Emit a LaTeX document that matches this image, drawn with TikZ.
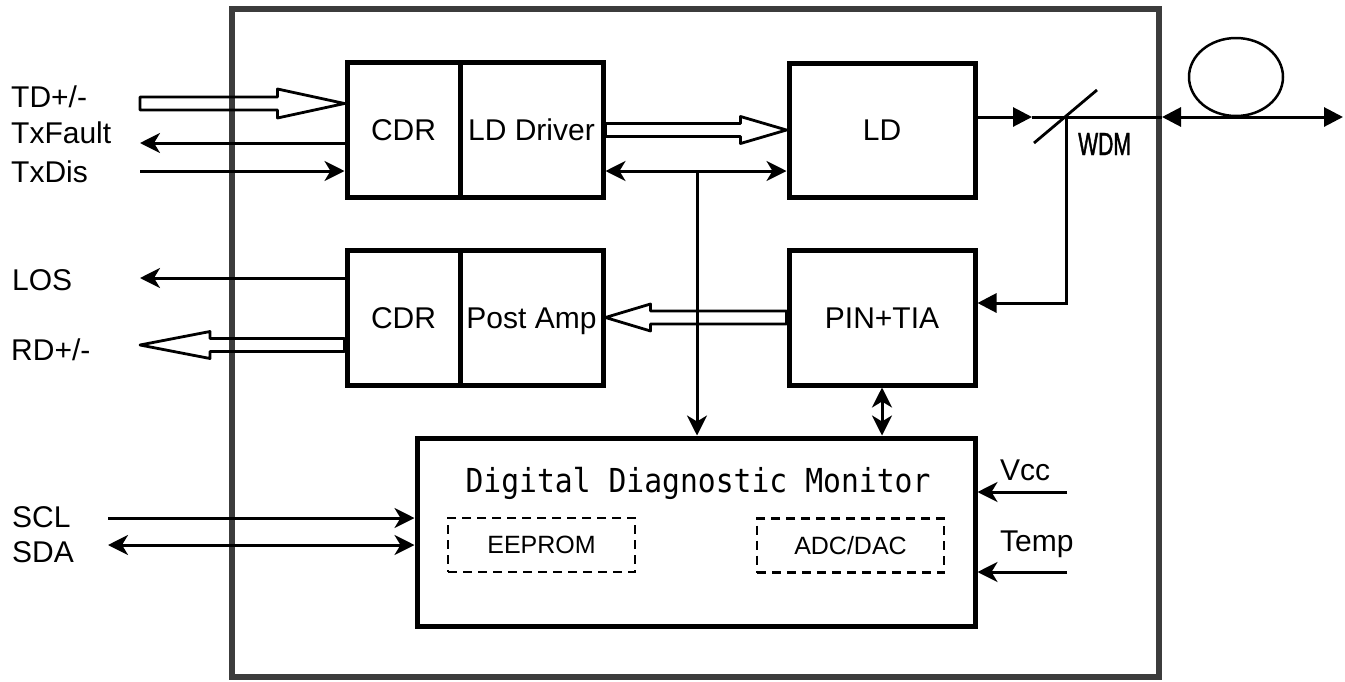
\documentclass[tikz,border=0pt]{standalone}
\usepackage{fontspec}
\setmainfont{Liberation Sans}
\newfontfamily\ddmfont[FakeStretch=0.9]{DejaVu Sans Mono}
\newfontfamily\wdmfont[FakeStretch=0.66,FakeBold=1.2]{Liberation Sans}
\usetikzlibrary{arrows.meta,calc}
\definecolor{outerc}{RGB}{60,60,60}
\tikzset{
  blk/.style={draw=black, line width=5pt, inner sep=0pt, text height=21.5pt, text depth=0pt, font=\fontsize{30}{36}\selectfont},
  dashbox/.style={draw=black, line width=2.8pt, dash pattern=on 9pt off 6pt, inner sep=0pt, text height=17.9pt, text depth=0pt, font=\fontsize{25}{30}\selectfont, minimum width=187pt, minimum height=54pt},
  sig/.style={inner sep=0pt, anchor=base west, font=\fontsize{30}{36}\selectfont},
  conn/.style={line width=3pt, draw=black},
  stl/.tip={Stealth[length=20pt,width=20pt,inset=6pt]},
  tri/.tip={Triangle[length=19pt,width=19pt]},
  hollow/.style={line width=2.8pt, line join=round},
}
\newcommand\hollowarr[4]{%
  \draw[hollow] let \p1=#1, \p2=#2 in
    (\x1,{\y1+6.5pt}) -- ({\x2-(#3pt)},{\y1+6.5pt}) -- ({\x2-(#3pt)},{\y1+#4pt})
    -- (\x2,\y1) -- ({\x2-(#3pt)},{\y1-#4pt}) -- ({\x2-(#3pt)},{\y1-6.5pt})
    -- (\x1,{\y1-6.5pt}) -- cycle;}
\begin{document}
\begin{tikzpicture}[x=1pt,y=-1pt]
\useasboundingbox (0,0) rectangle (1345,681);
% module outline
\node[draw=outerc, line width=6pt, inner sep=0pt, minimum width=927pt, minimum height=668pt] (mod) at (695.5,343) {};
% blocks
\node[blk, minimum width=113pt, minimum height=134.5pt] (cdr1) at (403.5,129.75) {CDR};
\node[blk, minimum width=143pt, minimum height=134.5pt] (ldd) at (531.5,129.75) {LD Driver};
\node[blk, minimum width=186pt, minimum height=134pt] (ld) at (882,130) {LD};
\node[blk, minimum width=113pt, minimum height=135pt] (cdr2) at (403.5,317.5) {CDR};
\node[blk, minimum width=143pt, minimum height=135pt] (pamp) at (531.5,317.5) {Post Amp};
\node[blk, minimum width=186pt, minimum height=135pt] (pin) at (882,317.5) {PIN+TIA};
\node[draw=black, line width=5pt, inner sep=0pt, minimum width=558pt, minimum height=188pt] (ddm) at (696,532) {};
\node[font=\ddmfont\fontsize{33}{40}\selectfont, inner sep=0pt, text height=24pt, text depth=0pt] (ddmt) at (698,480) {Digital Diagnostic Monitor};
\node[dashbox] (eep) at (541.5,545) {EEPROM};
\node[dashbox] (adc) at (850.5,545.5) {ADC/DAC};
% labels
\node[sig] (ltd) at (11,107) {TD+/-};
\node[sig] (ltxf) at (11,143) {TxFault};
\node[sig] (ltxd) at (11,182) {TxDis};
\node[sig] (llos) at (12,290) {LOS};
\node[sig] (lrd) at (11,360) {RD+/-};
\node[sig] (lscl) at (12,527) {SCL};
\node[sig] (lsda) at (12,562) {SDA};
\node[sig] (lvcc) at (1000,480) {Vcc};
\node[sig] (ltemp) at (1000,551) {Temp};
\node[sig, font=\wdmfont\fontsize{32}{38}\selectfont] (lwdm) at (1078,155) {WDM};
% free ends
\coordinate (td) at (140,103.5);
\coordinate (txf) at (140,143);
\coordinate (txd) at (140,171);
\coordinate (ctl) at (697,171);
\coordinate (txbus) at (700,130);
\coordinate (los) at (140,278);
\coordinate (rd) at (140,345);
\coordinate (scl) at (108,518);
\coordinate (sda) at (108,545);
\coordinate (vcc) at (1067,492);
\coordinate (temp) at (1067,572);
\coordinate (wdm) at (1066,117);
\coordinate (optarr) at (1032,117);
\coordinate (pinin) at (1066,303);
\coordinate (ws1) at (1034,143);
\coordinate (ws2) at (1097,90);
\coordinate (fout) at (1343,117);
\coordinate (fib) at (1236,77);
% hollow (bus) arrows
\hollowarr{(td)}{(cdr1.west |- td)}{67}{14.5}
\hollowarr{(ldd.east |- txbus)}{(ld.west |- txbus)}{46}{13.5}
\hollowarr{(pin.west)}{(pamp.east)}{-45}{13.5}
\hollowarr{(cdr2.west |- rd)}{(rd)}{-70}{13.5}
% single line connectors
\draw[conn,-stl] (txf -| cdr1.west) -- (txf);
\draw[conn,-stl] (txd) -- (txd -| cdr1.west);
\draw[conn,stl-stl] (ldd.east |- ctl) -- (ld.west |- ctl);
\draw[conn,-stl] (ctl) -- (ctl |- ddm.north);
\draw[conn,stl-stl] (pin.south) -- (pin.south |- ddm.north);
\draw[conn,-stl] (los -| cdr2.west) -- (los);
\draw[conn,-stl] (scl) -- (scl -| ddm.west);
\draw[conn,stl-stl] (sda) -- (sda -| ddm.west);
\draw[conn,-stl] (vcc) -- (vcc -| ddm.east);
\draw[conn,-stl] (temp) -- (temp -| ddm.east);
% optical path
\draw[conn,-tri] (ld.east |- wdm) -- (optarr);
\draw[conn] (optarr) -- (mod.east |- wdm);
\draw[line width=2.8pt] (ws1) -- (ws2);
\draw[conn,-tri] (wdm) -- (pinin) -- (pin.east |- pinin);
\draw[line width=2.5pt] (fib) ellipse [x radius=47pt, y radius=39pt];
\draw[conn,tri-tri] (mod.east |- wdm) -- (fout);
\end{tikzpicture}
\end{document}
